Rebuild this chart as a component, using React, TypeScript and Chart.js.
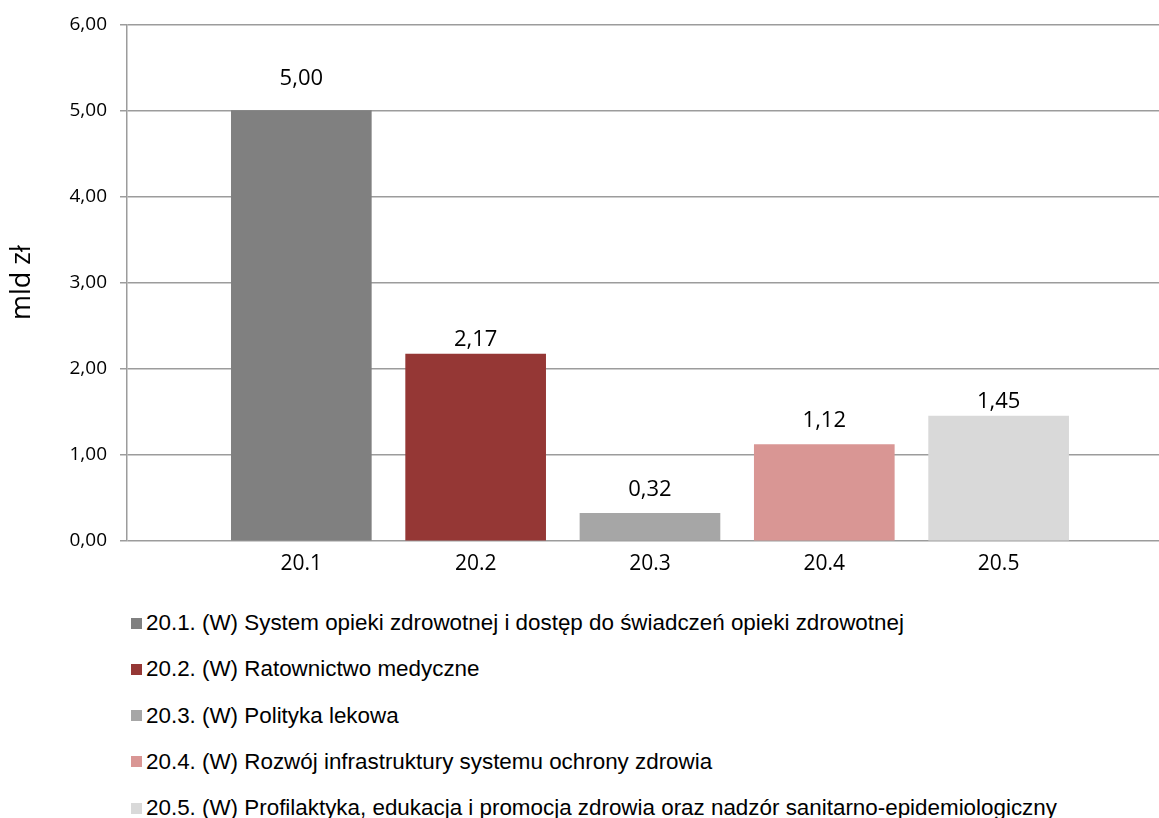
import React, { useEffect, useRef } from "react";
import { Chart, registerables } from "chart.js";

Chart.register(...registerables);

// ---- data ----
const categories = ["20.1", "20.2", "20.3", "20.4", "20.5"];
const values = [5.0, 2.17, 0.32, 1.12, 1.45];
const seriesNames = [
  "20.1. (W) System opieki zdrowotnej i dostęp do świadczeń opieki zdrowotnej",
  "20.2. (W) Ratownictwo medyczne",
  "20.3. (W) Polityka lekowa",
  "20.4. (W) Rozwój infrastruktury systemu ochrony zdrowia",
  "20.5. (W) Profilaktyka, edukacja i promocja zdrowia oraz nadzór sanitarno-epidemiologiczny",
];
const yTicks = [0, 1, 2, 3, 4, 5, 6];
const yTitle = "mld zł";

// ---- styles ----
const colors = ["#808080", "#953735", "#A6A6A6", "#D99694", "#D9D9D9"];
const labelLift = [32, 14, 24, 24, 14];
const gridColor = "#9c9c9c";
const FONT = "'Open Sans', 'DejaVu Sans', sans-serif";
const LEGEND_FONT = "'Liberation Sans', Arial, sans-serif";

const fmt = (v: number) => v.toFixed(2).replace(".", ",");

const valueLabels = {
  id: "valueLabels",
  afterDatasetsDraw(chart: any) {
    const ctx = chart.ctx;
    const meta = chart.getDatasetMeta(0);
    ctx.save();
    ctx.font = `22px ${FONT}`;
    ctx.fillStyle = "#000";
    ctx.textAlign = "center";
    ctx.textBaseline = "middle";
    meta.data.forEach((bar: any, i: number) => {
      ctx.fillText(fmt(values[i]), bar.x, bar.y - labelLift[i]);
    });
    ctx.restore();
  },
};

export default function App() {
  const ref = useRef<HTMLCanvasElement | null>(null);

  useEffect(() => {
    if (!ref.current) return;
    const chart = new Chart(ref.current, {
      type: "bar",
      data: {
        datasets: [
          {
            data: values.map((v, i) => ({ x: i + 1, y: v })),
            backgroundColor: colors,
            borderWidth: 0,
            barThickness: 140,
          },
        ],
      },
      options: {
        responsive: false,
        animation: false,
        layout: { padding: { top: 24, right: 0, bottom: 0, left: 0 } },
        plugins: {
          legend: { display: false },
          tooltip: { enabled: false },
        },
        scales: {
          x: {
            type: "linear",
            offset: false,
            min: 0,
            max: 5.92,
            grid: { display: false, drawTicks: false },
            border: { display: false },
            afterBuildTicks: (s: any) => {
              s.ticks = categories.map((_, i) => ({ value: i + 1 }));
            },
            afterFit: (s: any) => {
              s.height = 54;
            },
            ticks: {
              autoSkip: false,
              maxRotation: 0,
              padding: 10,
              color: "#000",
              font: { family: FONT, size: 21 },
              callback: (v: any) => categories[Number(v) - 1] ?? "",
            },
          },
          y: {
            min: 0,
            max: 6,
            afterBuildTicks: (s: any) => {
              s.ticks = yTicks.map((v) => ({ value: v }));
            },
            afterFit: (s: any) => {
              s.width = 127;
            },
            grid: {
              color: gridColor,
              lineWidth: 1.5,
              drawTicks: true,
              tickLength: 7,
            },
            border: { color: gridColor, width: 1.5 },
            ticks: {
              padding: 13,
              color: "#000",
              font: { family: FONT, size: 19 },
              callback: (v: any) => fmt(Number(v)),
            },
            title: {
              display: true,
              text: yTitle,
              color: "#000",
              font: { family: FONT, size: 27 },
              padding: { top: 6, bottom: 0 },
            },
          },
        },
      },
      plugins: [valueLabels],
    });
    return () => chart.destroy();
  }, []);

  return (
    <div
      style={{
        position: "absolute",
        left: 0,
        top: 0,
        width: 1159,
        height: 818,
        overflow: "hidden",
        background: "#fff",
      }}
    >
      <canvas ref={ref} width={1159} height={595} style={{ display: "block" }} />
      <div style={{ position: "absolute", left: 131, top: 600 }}>
        {seriesNames.map((name, i) => (
          <div
            key={name}
            style={{
              height: 46.25,
              display: "flex",
              alignItems: "center",
              fontFamily: LEGEND_FONT,
              fontSize: 22.4,
              color: "#000",
              whiteSpace: "nowrap",
            }}
          >
            <span
              style={{
                display: "inline-block",
                width: 11,
                height: 11,
                background: colors[i],
                marginRight: 4,
              }}
            />
            <span>{name}</span>
          </div>
        ))}
      </div>
    </div>
  );
}
